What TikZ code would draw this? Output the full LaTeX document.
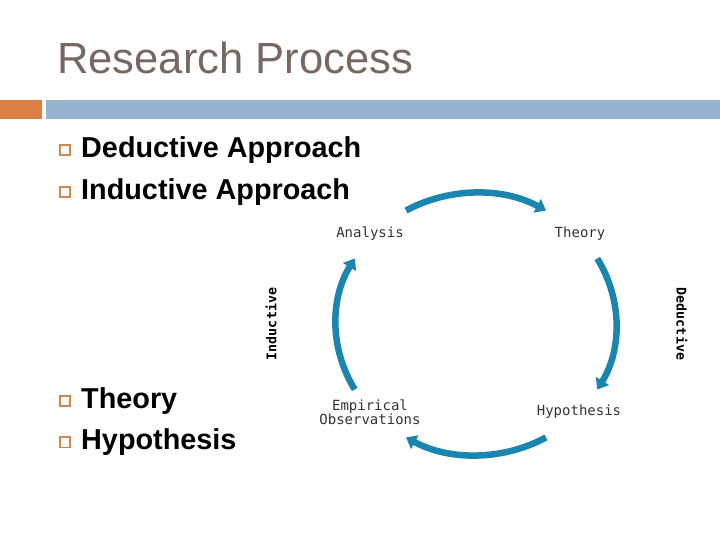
\documentclass[tikz,border=0pt]{standalone}
\usepackage{fontspec}
\setmainfont{Liberation Sans}
\newfontfamily\cyclefont{DejaVu Sans Mono}
\usepackage{xcolor}
\usepackage{tikz}
\usetikzlibrary{arrows.meta,positioning,calc}
\definecolor{titlegray}{HTML}{766860}
\definecolor{barorange}{HTML}{DD7E45}
\definecolor{barblue}{HTML}{94B4D1}
\definecolor{bulletbrown}{HTML}{D08850}
\definecolor{cycleblue}{HTML}{1A86B0}
\definecolor{labelgray}{HTML}{333333}

\begin{document}
\begin{tikzpicture}[
  x=1pt,y=1pt,
  point/.style={font=\bfseries\fontsize{28.8}{30}\selectfont,
                anchor=base west,inner sep=0pt},
  bul/.style={draw=bulletbrown,line width=1.6pt,minimum size=10.5pt,inner sep=0pt,
              left=10pt of #1},
  lab/.style={font=\cyclefont\fontsize{14}{14.5}\selectfont,color=labelgray,
              align=center,inner sep=0pt},
  side/.style={font=\cyclefont\bfseries\fontsize{13.3}{14}\selectfont,inner sep=0pt},
  cyc/.style={draw=cycleblue,line width=6.5pt,
              -{Triangle[length=10pt,width=15pt]}}
]
\useasboundingbox (0,0) rectangle (720,540);
% heading and bars
\node[anchor=base west,inner sep=0pt,color=titlegray,
      font=\fontsize{43.6}{45}\selectfont] (title) at (57,466) {Research Process};
\fill[barorange] (0,421) rectangle (42,440);
\fill[barblue] (46,421) rectangle (720,440);
% bullet points
\node[point] (p1) at (81,382) {Deductive Approach};
\node[point] (p2) at (81,340) {Inductive Approach};
\node[point] (p3) at (81,131) {Theory};
\node[point] (p4) at (81,90) {Hypothesis};
\foreach \p in {p1,p2,p3,p4}
  \node[bul=\p.west,yshift=0.5pt] (b-\p) {};
% the cycle
\coordinate (c) at (476,216);
\node[lab] (analysis) at (370,306) {Analysis};
\node[lab] (theory) at (580,306) {Theory};
\node[lab] (hypo) at (579,128) {Hypothesis};
\node[lab] (empir) at (370,128) {Empirical\\Observations};
\node[side,rotate=90] (induct) at (271,216) {Inductive};
\node[side,rotate=-90] (deduct) at (682,216) {Deductive};
\coordinate (ts) at ($(c)+(120:140 and 131)$);
\coordinate (rs) at ($(c)+(30:140 and 131)$);
\coordinate (bs) at ($(c)+(-60:140 and 131)$);
\coordinate (ls) at ($(c)+(210:140 and 131)$);
\draw[cyc] (ts) arc[start angle=120,end angle=60,x radius=140,y radius=131];
\draw[cyc] (rs) arc[start angle=30,end angle=-30,x radius=140,y radius=131];
\draw[cyc] (bs) arc[start angle=-60,end angle=-120,x radius=140,y radius=131];
\draw[cyc] (ls) arc[start angle=210,end angle=150,x radius=140,y radius=131];
\end{tikzpicture}
\end{document}
